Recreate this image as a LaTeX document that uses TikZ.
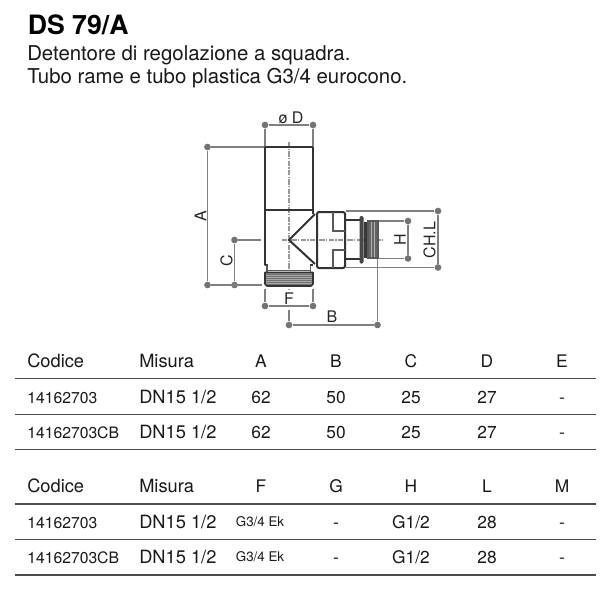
\documentclass[tikz,border=0pt]{standalone}
\usepackage{fontspec}
\setmainfont{TeX Gyre Heros}
\tikzset{
  px/.style={x=0.75pt,y=-0.75pt},
  body/.style={draw=black!80,line width=1.5pt,line join=round},
  thin body/.style={draw=black!65,line width=0.8pt},
  dim/.style={draw=black!50,line width=1pt},
  axis/.style={draw=black!40,line width=0.9pt,dash pattern=on 4pt off 1pt on 1pt off 1pt},
  dimdot/.style={circle,fill=black!55,inner sep=0pt,minimum size=5pt},
  rule/.style={draw=black!70,line width=0.9pt},
  lab/.style={font=\fontsize{12}{14}\selectfont,text=black!85,inner sep=0pt,anchor=center},
  cell/.style={font=\fontsize{13}{15}\selectfont,text=black!90,inner sep=0pt,anchor=base},
  codeL/.style={font=\fontsize{11.8}{13}\selectfont,text=black!90,inner sep=0pt,anchor=base west},
  head/.style={font=\fontsize{13.7}{15}\selectfont,text=black!90,inner sep=0pt,anchor=base west},
  small/.style={font=\fontsize{10}{12}\selectfont,text=black!90,inner sep=0pt,anchor=base},
}
\begin{document}
\begin{tikzpicture}[px]
\useasboundingbox (0,0) rectangle (600,600);
\fill[white] (0,0) rectangle (600,600);
% title
\node[anchor=base west,inner sep=0pt,font=\bfseries\fontsize{20}{22}\selectfont] (title) at (27.5,34) {DS 79/A};
\node[anchor=base west,inner sep=0pt,font=\fontsize{15.3}{17}\selectfont,text=black!90] (sub1) at (27,60) {Detentore di regolazione a squadra.};
\node[anchor=base west,inner sep=0pt,font=\fontsize{15.3}{17}\selectfont,text=black!90] (sub2) at (27,83) {Tubo rame e tubo plastica G3/4 eurocono.};
% dimension anchors
\node[dimdot] (dL) at (265,125) {};
\node[dimdot] (dR) at (313,125) {};
\node[dimdot] (aT) at (207.5,147) {};
\node[dimdot] (aB) at (207.5,285) {};
\node[dimdot] (cT) at (234.5,240) {};
\node[dimdot] (cB) at (234.5,285) {};
\node[dimdot] (fL) at (265,306) {};
\node[dimdot] (fR) at (313,306) {};
\node[dimdot] (bL) at (289,325) {};
\node[dimdot] (bR) at (377.5,325) {};
\node[dimdot] (hT) at (408,221) {};
\node[dimdot] (hB) at (408,258.5) {};
\node[dimdot] (chT) at (438,211) {};
\node[dimdot] (chB) at (438,267.5) {};
\coordinate (dLe) at (265,146);
\coordinate (dRe) at (313,146);
\coordinate (aTe) at (264,147);
\coordinate (aBe) at (262,285);
\coordinate (cTe) at (261,240);
\coordinate (fLe) at (265,289);
\coordinate (fRe) at (313,289);
\coordinate (bLe) at (289,310);
\coordinate (bRe) at (377.5,258);
\coordinate (hTe) at (379,221);
\coordinate (hBe) at (379,258.5);
\coordinate (chTe) at (346,211);
\coordinate (chBe) at (346,267.5);
\draw[dim] (dLe) -- (dL) -- (dR) -- (dRe);
\draw[dim] (aTe) -- (aT) -- (aB) -- (aBe);
\draw[dim] (cTe) -- (cT) -- (cB);
\draw[dim] (fLe) -- (fL) -- (fR) -- (fRe);
\draw[dim] (bLe) -- (bL) -- (bR) -- (bRe);
\draw[dim] (hTe) -- (hT) -- (hB) -- (hBe);
\draw[dim] (chTe) -- (chT) -- (chB) -- (chBe);
% axes
\draw[axis] (289,142) -- (289,291);
\draw[axis] (282,240) -- (383,240);
% body
\draw[body] (265,147) rectangle (313,210);
\draw[body] (265,210) -- (265,265) -- (268,265);
\draw[body] (313,210) -- (313,214);
\draw[body] (315,214) -- (289,240) -- (315,264);
\draw[body] (313,265) -- (310,265);
% lower nut
\draw[thin body] (267,265) -- (267,272) (310.5,265) -- (310.5,272);
\draw[thin body] (267,270.5) -- (310.5,270.5);
\fill[black!55,rounded corners=1.5pt] (265,272) rectangle (313,286);
\foreach \yy in {273.5,275.5,...,284.5} \draw[black!35,line width=0.35pt] (266,\yy) -- (312,\yy);
\draw[body,line width=1.2pt] (265,272.5) -- (313,272.5) -- (313,284) -- (311,286) -- (267,286) -- (265,284) -- cycle;
% hex nut
\draw[body,rounded corners=1.5pt] (317,212) rectangle (345,268);
\draw[thin body,line width=1.1pt] (333,212) -- (333,231) -- (345,231) (333,268) -- (333,250) -- (345,250);
% tail
\draw[body,line width=1.2pt] (345,220) -- (360,220) (345,259) -- (360,259);
\fill[black!72,rounded corners=1pt] (359.5,216) rectangle (363.5,263.5);
\fill[black!78] (363.5,222) rectangle (368,258);
\fill[black!30] (368,221) rectangle (378,258);
\foreach \xx in {369,370.5,...,378} \draw[black!60,line width=0.4pt] (\xx,221) -- (\xx,258);
\draw[thin body] (368,221) rectangle (378,258);
% dimension labels
\node[lab] (ld) at (291,118) {ø D};
\node[lab,rotate=90] (la) at (200.5,216) {A};
\node[lab,rotate=90] (lc) at (226.5,261) {C};
\node[lab] (lf) at (289,299) {F};
\node[lab] (lb) at (332,317) {B};
\node[lab,rotate=90] (lh) at (400,240) {H};
\node[lab,rotate=90] (lch) at (429.5,240) {CH.L};
% rules
\foreach \yy in {378.5,414.5,449.5,504,539.5,575} \draw[rule] (15,\yy) -- (596,\yy);
% table 1
\node[head] (h1a) at (27,367) {Codice};
\node[head] (h1b) at (139,367) {Misura};
\node[cell] (h1c) at (261,367) {A};
\node[cell] (h1d) at (336,367) {B};
\node[cell] (h1e) at (411,367) {C};
\node[cell] (h1f) at (487,367) {D};
\node[cell] (h1g) at (562,367) {E};
\node[codeL] (r1a) at (27,403) {14162703};
\node[head] (r1b) at (139,403) {DN15 1/2};
\node[cell] (r1c) at (261,403) {62};
\node[cell] (r1d) at (336,403) {50};
\node[cell] (r1e) at (411,403) {25};
\node[cell] (r1f) at (487,403) {27};
\node[cell] (r1g) at (562,403) {-};
\node[codeL] (r2a) at (27,438.5) {14162703CB};
\node[head] (r2b) at (139,438.5) {DN15 1/2};
\node[cell] (r2c) at (261,438.5) {62};
\node[cell] (r2d) at (336,438.5) {50};
\node[cell] (r2e) at (411,438.5) {25};
\node[cell] (r2f) at (487,438.5) {27};
\node[cell] (r2g) at (562,438.5) {-};
% table 2
\node[head] (h2a) at (27,492.5) {Codice};
\node[head] (h2b) at (139,492.5) {Misura};
\node[cell] (h2c) at (261,492.5) {F};
\node[cell] (h2d) at (336,492.5) {G};
\node[cell] (h2e) at (411,492.5) {H};
\node[cell] (h2f) at (487,492.5) {L};
\node[cell] (h2g) at (562,492.5) {M};
\node[codeL] (r3a) at (27,528) {14162703};
\node[head] (r3b) at (139,528) {DN15 1/2};
\node[small] (r3c) at (260,526.5) {G3/4 Ek};
\node[cell] (r3d) at (336,528) {-};
\node[cell] (r3e) at (411,528) {G1/2};
\node[cell] (r3f) at (487,528) {28};
\node[cell] (r3g) at (562,528) {-};
\node[codeL] (r4a) at (27,563) {14162703CB};
\node[head] (r4b) at (139,563) {DN15 1/2};
\node[small] (r4c) at (260,561.5) {G3/4 Ek};
\node[cell] (r4d) at (336,563) {-};
\node[cell] (r4e) at (411,563) {G1/2};
\node[cell] (r4f) at (487,563) {28};
\node[cell] (r4g) at (562,563) {-};
\end{tikzpicture}
\end{document}
